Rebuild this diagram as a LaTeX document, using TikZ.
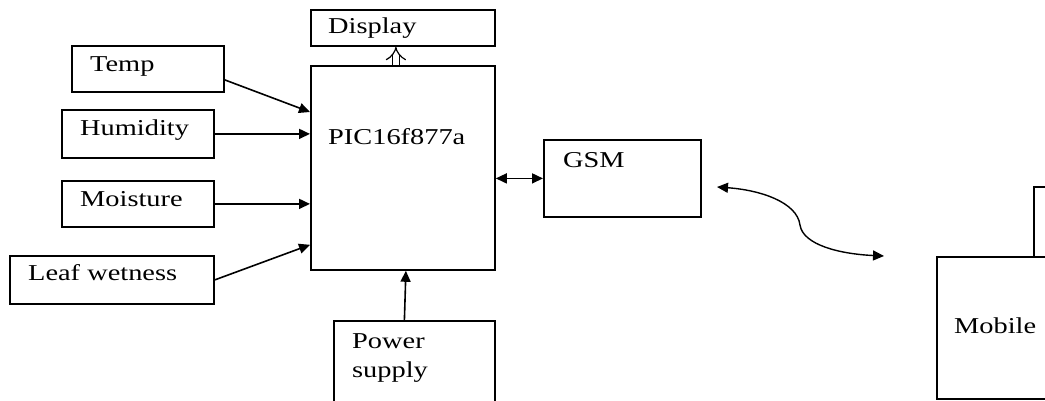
\documentclass[tikz,border=0pt]{standalone}
\usepackage{fontspec}
\setmainfont{Liberation Serif}[FakeStretch=1.25]
\usetikzlibrary{arrows.meta}

\begin{document}
\begin{tikzpicture}[x=1pt,y=-1pt,>={Triangle[length=11pt,width=10pt]},
    font=\fontsize{22.7}{29}\selectfont]
    \tikzstyle{block}=[draw, line width=1.8pt, inner sep=0pt, anchor=north west]
    \tikzstyle{caption}=[anchor=base west, inner sep=0pt, align=left]
    \tikzstyle{link}=[->, line width=1.6pt]

    \useasboundingbox (0,0) rectangle (1045,401);
    \clip (0,0) rectangle (1045,401);

    % Sensors
    \node[block, minimum width=152pt, minimum height=46pt] (temp) at (71,45) {};
    \node[caption] (temptext) at (90,72) {Temp};
    \node[block, minimum width=152pt, minimum height=48pt] (humidity) at (61,109) {};
    \node[caption] (humiditytext) at (80,136) {Humidity};
    \node[block, minimum width=152pt, minimum height=46pt] (moisture) at (61,180) {};
    \node[caption] (moisturetext) at (80,207) {Moisture};
    \node[block, minimum width=204pt, minimum height=48pt] (leaf) at (9,255) {};
    \node[caption] (leaftext) at (28,280) {Leaf wetness};

    % Controller
    \node[block, minimum width=184pt, minimum height=36pt] (display) at (310,9) {};
    \node[caption] (displaytext) at (328,34) {Display};
    \node[block, minimum width=184pt, minimum height=204pt] (pic) at (310,65) {};
    \node[caption] (pictext) at (328,145) {PIC16f877a};
    \node[block, minimum width=161pt, minimum height=100pt] (power) at (333,320) {};
    \node[caption] (powertext) at (352,377) {Power\\supply};
    \node[block, minimum width=157pt, minimum height=77pt] (gsm) at (543,139) {};
    \node[caption] (gsmtext) at (563,168) {GSM};

    % Receiver
    \node[block, minimum width=60pt, minimum height=77pt] (screen) at (1033,186) {};
    \node[block, fill=white, minimum width=150pt, minimum height=142pt] (mobile) at (936,256) {};
    \node[caption] (mobiletext) at (954,333) {Mobile};
    \coordinate (gsmend) at (717,187);
    \coordinate (mobileend) at (884,256);

    % Links
    \draw[link] ([yshift=-11pt]temp.east) -- ([yshift=-47pt]pic.north west);
    \draw[link] (humidity.east) -- (humidity.east -| pic.west);
    \draw[link] (moisture.east) -- (moisture.east -| pic.west);
    \draw[link] (leaf.east) -- ([yshift=26pt]pic.south west);
    \draw[link] ([xshift=-10pt]power.north) -- ([xshift=3pt]pic.south);
    \draw[link, <->] (gsm.west -| pic.east) -- (gsm.west);
    \draw[line width=1.2pt, double, double distance=6pt, -{Implies[length=7pt,width=18pt]}]
        ([xshift=-7pt]pic.north) -- ([xshift=-7pt]display.south);
    \draw[<->, line width=1.4pt] (gsmend) .. controls (760,190) and (797,202) .. (800,225)
        .. controls (803,245) and (840,254) .. (mobileend);
\end{tikzpicture}
\end{document}
